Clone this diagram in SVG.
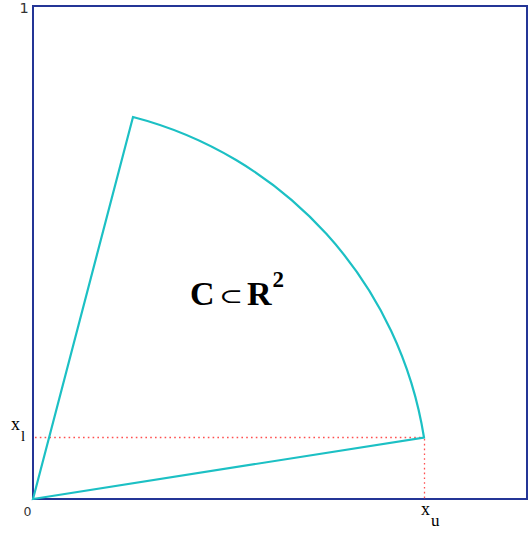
<svg xmlns="http://www.w3.org/2000/svg" width="528" height="533" viewBox="0 0 528 533">
<style>
.frame{fill:none;stroke:#243596;stroke-width:2}
.sector{fill:none;stroke:#1cc0c4;stroke-width:2.2;stroke-linejoin:miter}
.guide{fill:none;stroke:#ff5050;stroke-width:1.3;stroke-dasharray:1.6 3.2}
.tick{font-family:"DejaVu Sans",sans-serif;fill:#333}
.lbl{font-family:"Liberation Serif",serif;fill:#000}
.bold{font-weight:bold}
</style>
<rect width="528" height="533" fill="#fff"/>
<g id="frame"><rect class="frame" x="33" y="6" width="494" height="493"/></g>
<g id="connectors">
<path class="guide" d="M35 437.5 H423"/>
<path class="guide" d="M424.5 439 V499"/>
</g>
<g id="sector"><path class="sector" d="M33 499 L133 117 A395 395 0 0 1 424 437.5 Z"/></g>
<g id="labels">
<text class="tick" x="19.5" y="12.5" font-size="14.5">1</text>
<text class="tick" x="23.5" y="516" font-size="12.5">0</text>
<text class="lbl" x="11" y="429.5" font-size="18">x</text>
<text class="lbl" x="21" y="441" font-size="15">l</text>
<text class="lbl" x="421" y="514.5" font-size="18">x</text>
<text class="lbl" x="431" y="526" font-size="17">u</text>
</g>
<g id="formula">
<text class="lbl bold" x="190" y="304.5" font-size="34">C</text>
<text transform="translate(219 302.5) scale(1.2 0.85)" font-family="DejaVu Serif,serif" font-size="24">⊂</text>
<text class="lbl bold" x="247" y="304.5" font-size="34">R</text>
<text class="lbl bold" x="272.5" y="287" font-size="23">2</text>
</g>
</svg>
